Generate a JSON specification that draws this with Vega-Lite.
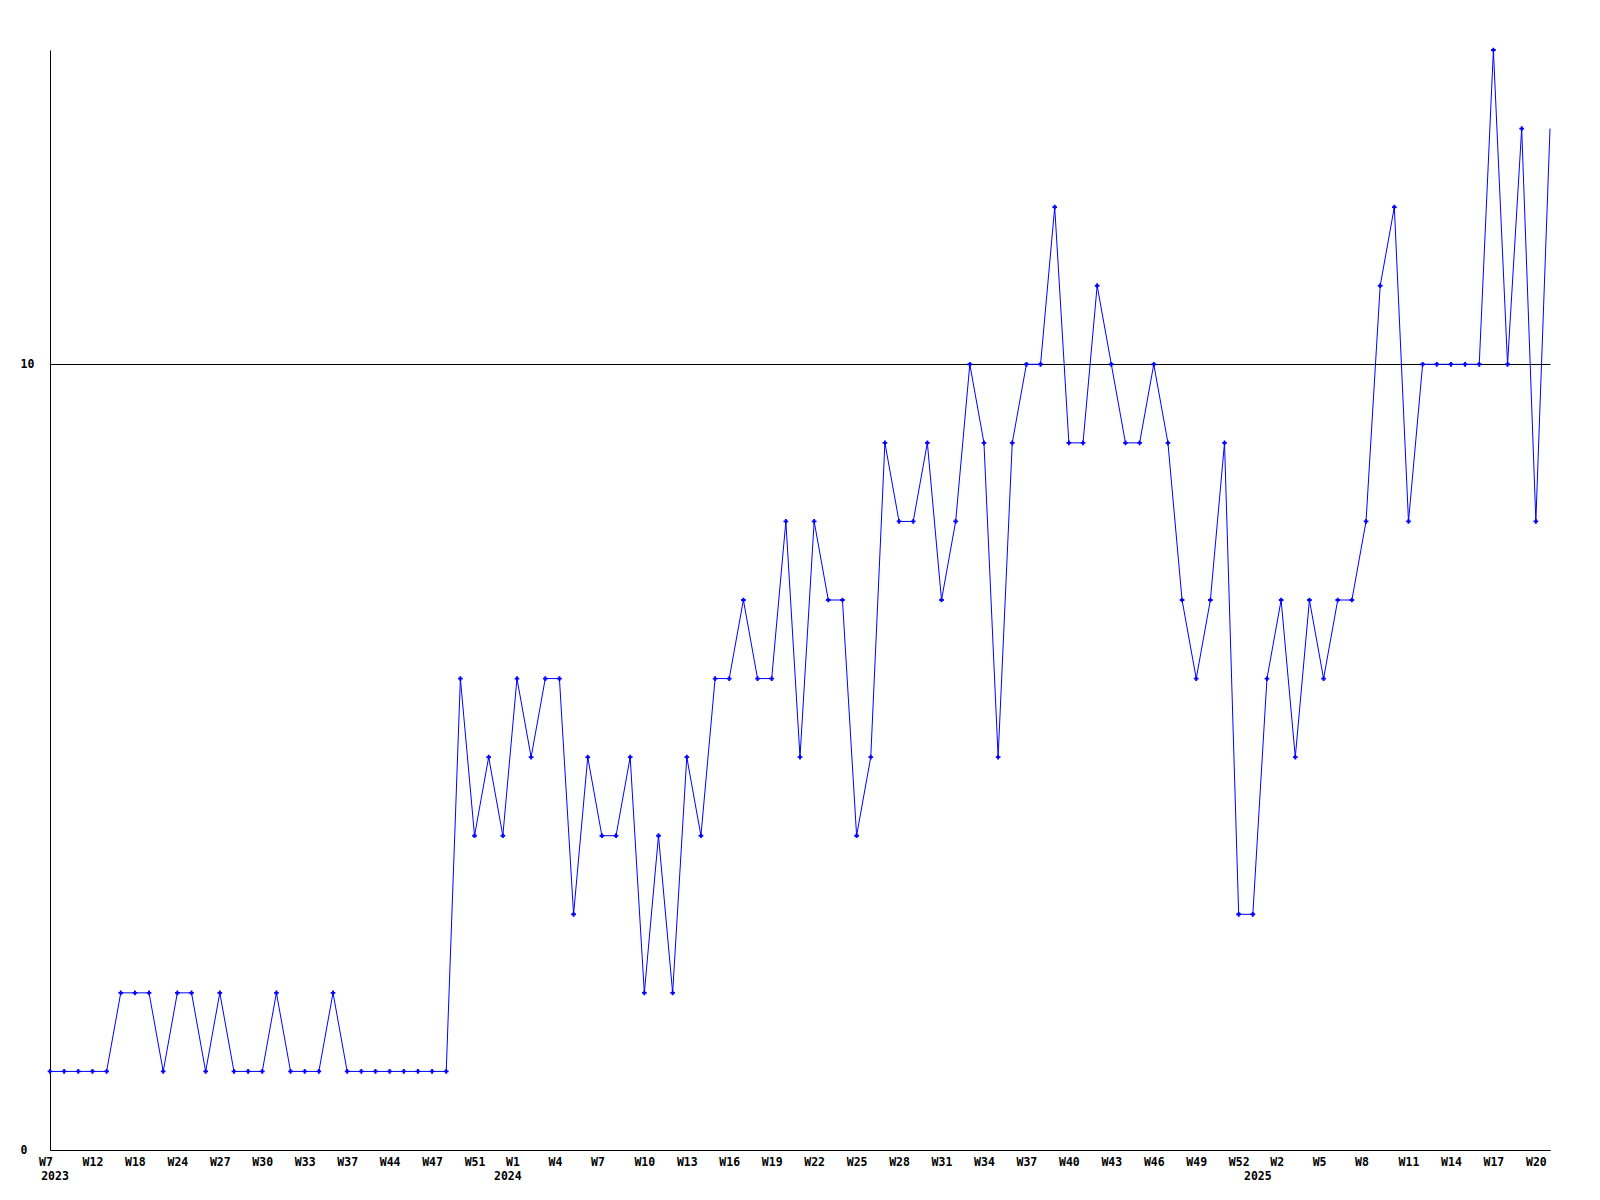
{
  "$schema": "https://vega.github.io/schema/vega-lite/v6.json",
  "width": 1500,
  "height": 1100,
  "autosize": {"type": "none"},
  "padding": {"left": 50, "top": 50, "right": 50, "bottom": 50},
  "background": "white",
  "config": {"view": {"stroke": null}},
  "data": {"values": [
    {"week":"2023-07","count":1},{"week":"2023-08","count":1},{"week":"2023-10","count":1},{"week":"2023-12","count":1},{"week":"2023-14","count":1},
    {"week":"2023-16","count":2},{"week":"2023-18","count":2},{"week":"2023-20","count":2},{"week":"2023-22","count":1},{"week":"2023-24","count":2},
    {"week":"2023-25","count":2},{"week":"2023-26","count":1},{"week":"2023-27","count":2},{"week":"2023-28","count":1},{"week":"2023-29","count":1},
    {"week":"2023-30","count":1},{"week":"2023-31","count":2},{"week":"2023-32","count":1},{"week":"2023-33","count":1},{"week":"2023-34","count":1},
    {"week":"2023-36","count":2},{"week":"2023-37","count":1},{"week":"2023-39","count":1},{"week":"2023-41","count":1},{"week":"2023-44","count":1},
    {"week":"2023-45","count":1},{"week":"2023-46","count":1},{"week":"2023-47","count":1},{"week":"2023-48","count":1},{"week":"2023-50","count":6},
    {"week":"2023-51","count":4},{"week":"2023-52","count":5},
    {"week":"2024-00","count":4},{"week":"2024-01","count":6},{"week":"2024-02","count":5},{"week":"2024-03","count":6},{"week":"2024-04","count":6},
    {"week":"2024-05","count":3},{"week":"2024-06","count":5},{"week":"2024-07","count":4},{"week":"2024-08","count":4},{"week":"2024-09","count":5},
    {"week":"2024-10","count":2},{"week":"2024-11","count":4},{"week":"2024-12","count":2},{"week":"2024-13","count":5},{"week":"2024-14","count":4},
    {"week":"2024-15","count":6},{"week":"2024-16","count":6},{"week":"2024-17","count":7},{"week":"2024-18","count":6},{"week":"2024-19","count":6},
    {"week":"2024-20","count":8},{"week":"2024-21","count":5},{"week":"2024-22","count":8},{"week":"2024-23","count":7},{"week":"2024-24","count":7},
    {"week":"2024-25","count":4},{"week":"2024-26","count":5},{"week":"2024-27","count":9},{"week":"2024-28","count":8},{"week":"2024-29","count":8},
    {"week":"2024-30","count":9},{"week":"2024-31","count":7},{"week":"2024-32","count":8},{"week":"2024-33","count":10},{"week":"2024-34","count":9},
    {"week":"2024-35","count":5},{"week":"2024-36","count":9},{"week":"2024-37","count":10},{"week":"2024-38","count":10},{"week":"2024-39","count":12},
    {"week":"2024-40","count":9},{"week":"2024-41","count":9},{"week":"2024-42","count":11},{"week":"2024-43","count":10},{"week":"2024-44","count":9},
    {"week":"2024-45","count":9},{"week":"2024-46","count":10},{"week":"2024-47","count":9},{"week":"2024-48","count":7},{"week":"2024-49","count":6},
    {"week":"2024-50","count":7},{"week":"2024-51","count":9},{"week":"2024-52","count":3},
    {"week":"2025-00","count":3},{"week":"2025-01","count":6},{"week":"2025-02","count":7},{"week":"2025-03","count":5},{"week":"2025-04","count":7},
    {"week":"2025-05","count":6},{"week":"2025-06","count":7},{"week":"2025-07","count":7},{"week":"2025-08","count":8},{"week":"2025-09","count":11},
    {"week":"2025-10","count":12},{"week":"2025-11","count":8},{"week":"2025-12","count":10},{"week":"2025-13","count":10},{"week":"2025-14","count":10},
    {"week":"2025-15","count":10},{"week":"2025-16","count":10},{"week":"2025-17","count":14},{"week":"2025-18","count":10},{"week":"2025-19","count":13},
    {"week":"2025-20","count":8},{"week":"2025-21","count":13,"partial":true}
  ]},
  "encoding": {
    "x": {
      "field": "week",
      "type": "ordinal",
      "sort": null,
      "scale": {"type": "point", "padding": 0},
      "axis": {
        "title": null,
        "values": ["2023-07","2023-12","2023-18","2023-24","2023-27","2023-30","2023-33","2023-37","2023-44","2023-47","2023-51",
                   "2024-00","2024-01","2024-04","2024-07","2024-10","2024-13","2024-16","2024-19","2024-22","2024-25","2024-28","2024-31","2024-34","2024-37","2024-40","2024-43","2024-46","2024-49","2024-52",
                   "2025-00","2025-02","2025-05","2025-08","2025-11","2025-14","2025-17","2025-20"],
        "labelExpr": "datum.value == '2023-07' ? ['W7\u2800', '\u28002023'] : (slice(datum.value, 5) == '00' ? ['', '\u2800' + slice(datum.value, 0, 4)] : 'W' + parseInt(slice(datum.value, 5), 10) + (parseInt(slice(datum.value, 5), 10) < 10 ? '\u2800' : ''))",
        "labelAngle": 0,
        "labelAlign": "center",
        "labelBaseline": "top",
        "labelFont": "DejaVu Sans Mono",
        "labelFontWeight": "bold",
        "labelFontSize": 11.5,
        "labelColor": "black",
        "labelLineHeight": 14,
        "labelPadding": 6,
        "labelOverlap": false,
        "labelFlush": false,
        "labelBound": false,
        "ticks": false,
        "tickSize": 0,
        "grid": false,
        "domain": true,
        "domainColor": "black",
        "domainWidth": 1
      }
    },
    "y": {
      "field": "count",
      "type": "quantitative",
      "scale": {"domain": [0, 14], "nice": false, "zero": true},
      "axis": {
        "title": null,
        "values": [0, 10],
        "labelAlign": "left",
        "labelBaseline": "middle",
        "labelPadding": 30,
        "labelFont": "DejaVu Sans Mono",
        "labelFontWeight": "bold",
        "labelFontSize": 11.5,
        "labelColor": "black",
        "ticks": false,
        "tickSize": 0,
        "grid": true,
        "gridColor": "black",
        "gridOpacity": 1,
        "gridWidth": 1,
        "domain": true,
        "domainColor": "black",
        "domainWidth": 1
      }
    }
  },
  "layer": [
    {"mark": {"type": "line", "color": "#0000ff", "strokeWidth": 1, "clip": false}},
    {
      "transform": [{"filter": "datum.partial !== true"}],
      "mark": {"type": "point", "shape": "cross", "size": 22, "filled": true, "color": "#0000ff", "opacity": 1}
    }
  ]
}
